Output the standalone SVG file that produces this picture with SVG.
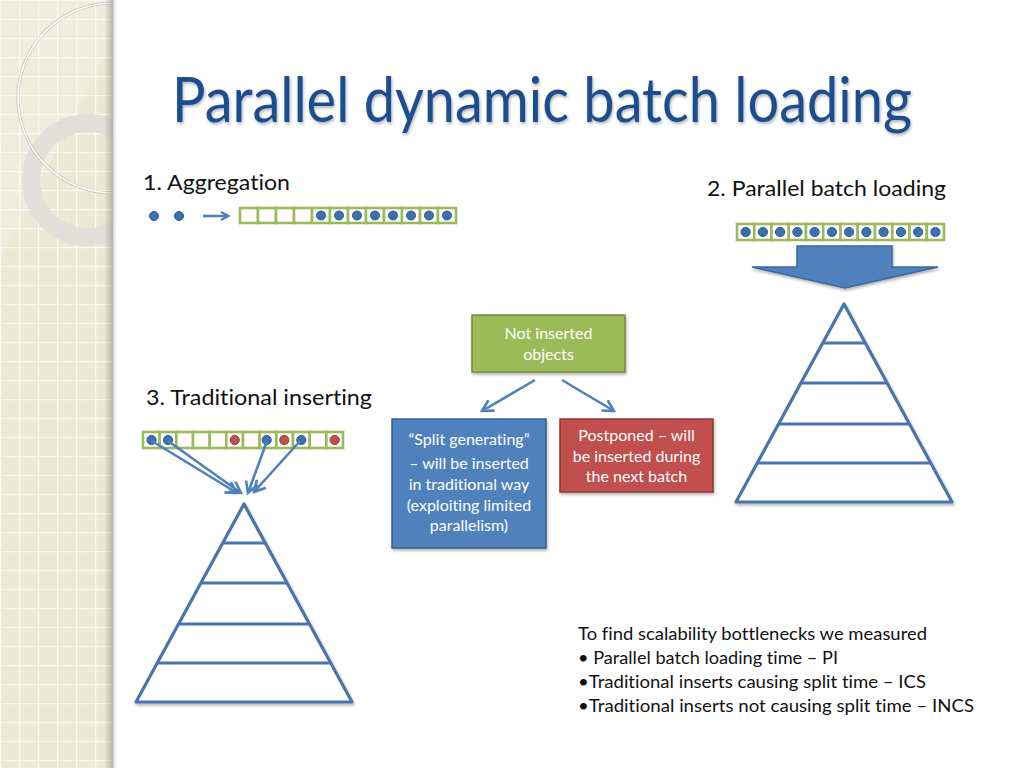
<svg xmlns="http://www.w3.org/2000/svg" width="1024" height="768" viewBox="0 0 1024 768">
<defs>
<style>
text{font-variant-ligatures:none;font-feature-settings:"liga" 0,"clig" 0;}
.lbl{font-family:Lato,"Open Sans","Liberation Sans",sans-serif;fill:#111;}
.box{font-family:Lato,"Open Sans","Liberation Sans",sans-serif;fill:#fff;font-size:16px;text-anchor:middle;}
.cell{fill:#fff;stroke:#9bbb59;stroke-width:2.6;}
.bd{fill:#3f6fae;stroke:#2f5a92;stroke-width:1;}
.rd{fill:#c0504d;stroke:#963a38;stroke-width:1;}
.pyr{fill:#fff;stroke:#4a74ad;stroke-width:3.2;stroke-linejoin:round;}
.pl{stroke:#4a74ad;stroke-width:3.2;}
.conn{stroke:#4f81bd;stroke-width:2.6;fill:none;}
</style>
<pattern id="grid" width="19" height="19" patternUnits="userSpaceOnUse">
<rect width="19" height="19" fill="#ebe8d3"/>
<path d="M0,0.5 H19 M0.5,0 V19" stroke="#fbfaf3" stroke-width="1.6"/>
<path d="M0,10 H19 M10,0 V19" stroke="#f3f1e4" stroke-width="0.8" stroke-dasharray="1,2"/>
</pattern>
<linearGradient id="edge" x1="0" y1="0" x2="1" y2="0">
<stop offset="0" stop-color="#9a9a90" stop-opacity="0"/>
<stop offset="0.6" stop-color="#8d8d85" stop-opacity="0.55"/>
<stop offset="1" stop-color="#ffffff" stop-opacity="0"/>
</linearGradient>
<clipPath id="strip"><rect x="0" y="0" width="113" height="768"/></clipPath>
<marker id="ah" viewBox="0 0 10 10" refX="8" refY="5" markerWidth="10" markerHeight="10" markerUnits="userSpaceOnUse" orient="auto">
<path d="M1,1 L8.5,5 L1,9" fill="none" stroke="#4f81bd" stroke-width="2.2" stroke-linejoin="miter"/>
</marker>
<marker id="ah2" viewBox="0 0 14 14" refX="12" refY="7" markerWidth="14" markerHeight="14" markerUnits="userSpaceOnUse" orient="auto">
<path d="M1,1 L12,7 L1,13" fill="none" stroke="#4f81bd" stroke-width="2.6"/>
</marker>
<filter id="sh" x="-10%" y="-10%" width="130%" height="130%">
<feGaussianBlur in="SourceAlpha" stdDeviation="1.5"/>
<feOffset dx="1" dy="2" result="b"/>
<feComponentTransfer><feFuncA type="linear" slope="0.3"/></feComponentTransfer>
<feMerge><feMergeNode/><feMergeNode in="SourceGraphic"/></feMerge>
</filter>
</defs>

<rect width="1024" height="768" fill="#ffffff"/>

<g id="decor">
<rect x="0" y="0" width="113" height="768" fill="url(#grid)"/>
<g clip-path="url(#strip)">
<path d="M0,0 L113,0 L113,40 L0,260 Z" fill="#ffffff" opacity="0.18"/>
<circle cx="88" cy="180" r="57" fill="none" stroke="#dfded8" stroke-width="18" opacity="0.95"/>
<circle cx="113" cy="98" r="95" fill="none" stroke="#a8a79c" stroke-width="3" opacity="0.6"/>
<circle cx="113" cy="98" r="95" fill="none" stroke="#ffffff" stroke-width="1.6"/>
</g>
<rect x="104" y="0" width="14" height="768" fill="url(#edge)"/>
</g>

<g id="title">
<text x="172" y="122" font-family="Lato,'Open Sans','Liberation Sans',sans-serif" font-size="62" fill="#1f4e8f" textLength="740" lengthAdjust="spacingAndGlyphs" filter="url(#sh)">Parallel dynamic batch loading</text>
</g>

<g id="aggregation">
<text class="lbl" x="143" y="190" font-size="22" textLength="147" lengthAdjust="spacingAndGlyphs">1. Aggregation</text>
<circle class="bd" cx="154" cy="216" r="4.5"/>
<circle class="bd" cx="179" cy="216" r="4.5"/>
<g>
<rect class="cell" x="240" y="208" width="18" height="15"/>
<rect class="cell" x="258" y="208" width="18" height="15"/>
<rect class="cell" x="276" y="208" width="18" height="15"/>
<rect class="cell" x="294" y="208" width="18" height="15"/>
<rect class="cell" x="312" y="208" width="18" height="15"/>
<rect class="cell" x="330" y="208" width="18" height="15"/>
<rect class="cell" x="348" y="208" width="18" height="15"/>
<rect class="cell" x="366" y="208" width="18" height="15"/>
<rect class="cell" x="384" y="208" width="18" height="15"/>
<rect class="cell" x="402" y="208" width="18" height="15"/>
<rect class="cell" x="420" y="208" width="18" height="15"/>
<rect class="cell" x="438" y="208" width="18" height="15"/>
<circle class="bd" cx="321" cy="215.5" r="4.5"/>
<circle class="bd" cx="339" cy="215.5" r="4.5"/>
<circle class="bd" cx="357" cy="215.5" r="4.5"/>
<circle class="bd" cx="375" cy="215.5" r="4.5"/>
<circle class="bd" cx="393" cy="215.5" r="4.5"/>
<circle class="bd" cx="411" cy="215.5" r="4.5"/>
<circle class="bd" cx="429" cy="215.5" r="4.5"/>
<circle class="bd" cx="447" cy="215.5" r="4.5"/>
</g>
</g>

<g id="parallel-batch">
<text class="lbl" x="707" y="196" font-size="22" textLength="239" lengthAdjust="spacingAndGlyphs">2. Parallel batch loading</text>
<rect class="cell" x="737" y="224" width="17.25" height="16"/>
<rect class="cell" x="754.25" y="224" width="17.25" height="16"/>
<rect class="cell" x="771.5" y="224" width="17.25" height="16"/>
<rect class="cell" x="788.75" y="224" width="17.25" height="16"/>
<rect class="cell" x="806" y="224" width="17.25" height="16"/>
<rect class="cell" x="823.25" y="224" width="17.25" height="16"/>
<rect class="cell" x="840.5" y="224" width="17.25" height="16"/>
<rect class="cell" x="857.75" y="224" width="17.25" height="16"/>
<rect class="cell" x="875" y="224" width="17.25" height="16"/>
<rect class="cell" x="892.25" y="224" width="17.25" height="16"/>
<rect class="cell" x="909.5" y="224" width="17.25" height="16"/>
<rect class="cell" x="926.75" y="224" width="17.25" height="16"/>
<circle class="bd" cx="745.6" cy="232" r="4.6"/>
<circle class="bd" cx="762.9" cy="232" r="4.6"/>
<circle class="bd" cx="780.1" cy="232" r="4.6"/>
<circle class="bd" cx="797.4" cy="232" r="4.6"/>
<circle class="bd" cx="814.6" cy="232" r="4.6"/>
<circle class="bd" cx="831.9" cy="232" r="4.6"/>
<circle class="bd" cx="849.1" cy="232" r="4.6"/>
<circle class="bd" cx="866.4" cy="232" r="4.6"/>
<circle class="bd" cx="883.6" cy="232" r="4.6"/>
<circle class="bd" cx="900.9" cy="232" r="4.6"/>
<circle class="bd" cx="918.1" cy="232" r="4.6"/>
<circle class="bd" cx="935.4" cy="232" r="4.6"/>
</g>

<g id="big-arrow">
<polygon points="797,246 892,246 892,267 938,267 845,288 752,267 797,267" fill="#4f81bd" stroke="#3c679c" stroke-width="1.5" stroke-linejoin="miter" filter="url(#sh)"/>
</g>

<g id="pyramid-right">
<polygon class="pyr" points="844,304 952,502 736,502" filter="url(#sh)"/>
<line class="pl" x1="822.7" y1="343" x2="865.3" y2="343"/>
<line class="pl" x1="800.9" y1="383" x2="887.1" y2="383"/>
<line class="pl" x1="778.5" y1="424" x2="909.5" y2="424"/>
<line class="pl" x1="757.2" y1="463" x2="930.8" y2="463"/>
</g>

<g id="traditional">
<text class="lbl" x="146" y="405" font-size="22" textLength="226" lengthAdjust="spacingAndGlyphs">3. Traditional inserting</text>
<rect class="cell" x="143" y="432" width="16.67" height="16"/>
<rect class="cell" x="159.67" y="432" width="16.67" height="16"/>
<rect class="cell" x="176.33" y="432" width="16.67" height="16"/>
<rect class="cell" x="193" y="432" width="16.67" height="16"/>
<rect class="cell" x="209.67" y="432" width="16.67" height="16"/>
<rect class="cell" x="226.33" y="432" width="16.67" height="16"/>
<rect class="cell" x="243" y="432" width="16.67" height="16"/>
<rect class="cell" x="259.67" y="432" width="16.67" height="16"/>
<rect class="cell" x="276.33" y="432" width="16.67" height="16"/>
<rect class="cell" x="293" y="432" width="16.67" height="16"/>
<rect class="cell" x="309.67" y="432" width="16.67" height="16"/>
<rect class="cell" x="326.33" y="432" width="16.67" height="16"/>
<circle class="bd" cx="151.5" cy="440" r="4.6"/>
<circle class="bd" cx="168" cy="440" r="4.6"/>
<circle class="rd" cx="234.7" cy="440" r="4.6"/>
<circle class="bd" cx="266.7" cy="440" r="4.6"/>
<circle class="rd" cx="284.3" cy="440" r="4.6"/>
<circle class="bd" cx="301.3" cy="440" r="4.6"/>
<circle class="rd" cx="334.7" cy="440" r="4.6"/>
</g>

<g id="pyramid-left">
<polygon class="pyr" points="244,504 352,702 136,702" filter="url(#sh)"/>
<line class="pl" x1="222.7" y1="543" x2="265.3" y2="543"/>
<line class="pl" x1="200.9" y1="583" x2="287.1" y2="583"/>
<line class="pl" x1="178.5" y1="624" x2="309.5" y2="624"/>
<line class="pl" x1="157.2" y1="663" x2="330.8" y2="663"/>
</g>

<g id="node-not-inserted">
<rect x="472" y="315" width="153" height="57" fill="#9bbb59" stroke="#71893f" stroke-width="1.5" filter="url(#sh)"/>
<text class="box" x="548.5" y="339">Not inserted</text>
<text class="box" x="548.5" y="360">objects</text>
</g>

<g id="node-split">
<rect x="392" y="419" width="154" height="129" fill="#4f81bd" stroke="#385d8a" stroke-width="1.5" filter="url(#sh)"/>
<text class="box" x="469" y="445">“Split generating”</text>
<text class="box" x="469" y="469">– will be inserted</text>
<text class="box" x="469" y="490">in traditional way</text>
<text class="box" x="469" y="511">(exploiting limited</text>
<text class="box" x="469" y="531">parallelism)</text>
</g>

<g id="node-postponed">
<rect x="560" y="419" width="153" height="73" fill="#c0504d" stroke="#8c3836" stroke-width="1.5" filter="url(#sh)"/>
<text class="box" x="636.5" y="441">Postponed – will</text>
<text class="box" x="636.5" y="462">be inserted during</text>
<text class="box" x="636.5" y="482">the next batch</text>
</g>

<g id="connectors">
<line class="conn" x1="203" y1="216" x2="228" y2="216" marker-end="url(#ah)"/>
<line class="conn" x1="535" y1="380" x2="482" y2="411" marker-end="url(#ah2)"/>
<line class="conn" x1="562" y1="380" x2="614" y2="411" marker-end="url(#ah2)"/>
<line class="conn" x1="152" y1="441" x2="237" y2="493" marker-end="url(#ah2)"/>
<line class="conn" x1="168" y1="441" x2="241" y2="493" marker-end="url(#ah2)"/>
<line class="conn" x1="267" y1="441" x2="248" y2="493" marker-end="url(#ah2)"/>
<line class="conn" x1="300" y1="441" x2="254" y2="492" marker-end="url(#ah2)"/>
</g>

<g id="notes">
<text class="lbl" x="578" y="640" font-size="17" textLength="349" lengthAdjust="spacingAndGlyphs">To find scalability bottlenecks we measured</text>
<text class="lbl" x="578" y="664" font-size="17" textLength="260" lengthAdjust="spacingAndGlyphs">• Parallel batch loading time – PI</text>
<text class="lbl" x="578" y="688" font-size="17" textLength="348" lengthAdjust="spacingAndGlyphs">•Traditional inserts causing split time – ICS</text>
<text class="lbl" x="578" y="712" font-size="17" textLength="396" lengthAdjust="spacingAndGlyphs">•Traditional inserts not causing split time – INCS</text>
</g>
</svg>
